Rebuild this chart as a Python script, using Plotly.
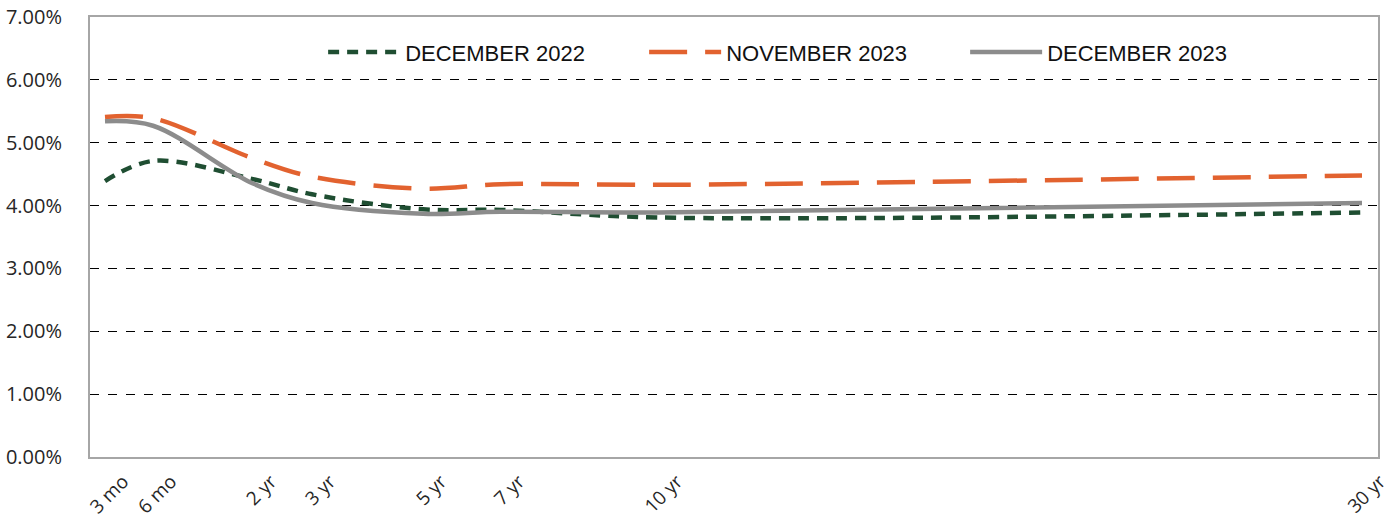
import plotly.graph_objects as go

# Tenor labels and their position along the (custom-spaced) maturity axis
tenors = ["3 mo", "6 mo", "2 yr", "3 yr", "5 yr", "7 yr", "10 yr", "30 yr"]
tenor_pos = [15, 63, 163, 222, 333, 411, 569, 1272]

# Treasury yields (%)
dec_2022 = [4.39, 4.71, 4.42, 4.18, 3.94, 3.93, 3.81, 3.89]
nov_2023 = [5.41, 5.39, 4.75, 4.46, 4.27, 4.34, 4.33, 4.48]
dec_2023 = [5.34, 5.27, 4.35, 4.04, 3.87, 3.90, 3.89, 4.04]

y_ticks = [0, 1, 2, 3, 4, 5, 6, 7]

fig = go.Figure()
fig.add_trace(go.Scatter(
    x=tenor_pos, y=dec_2022, name="DECEMBER 2022", mode="lines",
    line=dict(color="#1f4e32", width=4.5, dash="11px,8px", shape="spline", smoothing=1.0),
))
fig.add_trace(go.Scatter(
    x=tenor_pos, y=nov_2023, name="NOVEMBER 2023", mode="lines",
    line=dict(color="#e2622f", width=4.5, dash="38px,18px", shape="spline", smoothing=1.0),
))
fig.add_trace(go.Scatter(
    x=tenor_pos, y=dec_2023, name="DECEMBER 2023", mode="lines",
    line=dict(color="#8c8c8c", width=4.5, shape="spline", smoothing=1.0),
))

x_font = dict(family="Open Sans, Liberation Sans, sans-serif", size=19, color="#262626")
y_font = dict(family="Open Sans, Liberation Sans, sans-serif", size=20, color="#262626")

fig.update_layout(
    width=1395, height=527,
    margin=dict(l=90, r=17, t=17, b=70, autoexpand=False),
    paper_bgcolor="white", plot_bgcolor="white",
    showlegend=True,
    legend=dict(
        orientation="h", x=0.181, y=0.92, xanchor="left", yanchor="middle",
        font=dict(family="Liberation Sans Narrow, Arial Narrow, Liberation Sans, sans-serif",
                  size=22, color="#111111"),
        itemwidth=72,
        entrywidth=234, entrywidthmode="pixels",
        bgcolor="rgba(0,0,0,0)",
    ),
    xaxis=dict(
        range=[0, 1288], tickvals=tenor_pos, ticktext=tenors, tickangle=-45,
        showgrid=False, zeroline=False, showline=True, linecolor="#a6a6a6", linewidth=2,
        mirror=True, tickfont=x_font, ticks="", automargin=False,
        ticklabelshift=18, ticklabelstandoff=4,
    ),
    yaxis=dict(
        range=[0, 7], tickvals=y_ticks, ticktext=[f"{v:.2f}%" for v in y_ticks],
        showgrid=True, gridcolor="#000000", gridwidth=1, griddash="dash",
        zeroline=False, showline=True, linecolor="#a6a6a6", linewidth=2, mirror=True,
        tickfont=y_font, ticks="", ticklabelstandoff=22, automargin=False,
    ),
)

fig.write_html("out.html", config={"displayModeBar": False},
               post_script="document.body.style.margin='0';")
